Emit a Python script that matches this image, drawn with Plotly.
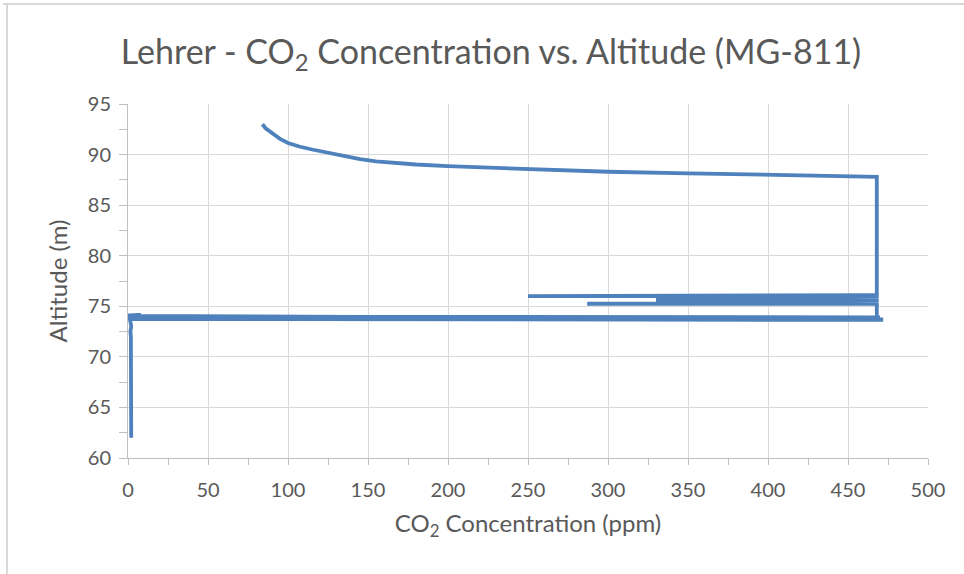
import plotly.graph_objects as go

# Path of the MG-811 readings (CO2 ppm, altitude m), in recorded order
ground_co2 = [2, 2, 2, 2.2, 2, 2, 1.8, 2, 2, 2.2, 2, 1.8, 1.5, 2, 1.5, 1, 0.5]
ground_alt = [62.0, 62.5, 63.5, 64.5, 65.5, 66.5, 67.5, 68.5, 69.5, 70.5, 71.5, 72.0, 72.5, 73.0, 73.5, 73.8, 74.1]

band_co2 = [8, 0.5, 472, 1, 470, 0.5, 472, 1, 470, 468]
band_alt = [74.15, 74.05, 73.7, 73.8, 73.9, 74.0, 73.65, 73.75, 73.85, 73.8]

loop_co2 = [468, 468, 250, 468, 468, 287, 468, 468, 330, 468, 468, 330, 468]
loop_alt = [74.2, 76.0, 76.0, 76.1, 75.25, 75.25, 75.3, 75.45, 75.45, 75.6, 75.8, 75.8, 75.95]

climb_co2 = [468, 468, 440, 400, 350, 300, 250, 225, 200, 180, 165, 155, 145, 135, 125, 115, 107, 100, 95, 90, 86, 84]
climb_alt = [76.0, 87.8, 87.9, 88.0, 88.15, 88.3, 88.55, 88.68, 88.85, 89.02, 89.18, 89.33, 89.55, 89.85, 90.2, 90.5, 90.8, 91.15, 91.55, 92.1, 92.6, 93.0]

co2 = ground_co2 + band_co2 + loop_co2 + climb_co2
alt = ground_alt + band_alt + loop_alt + climb_alt

x_ticks = [0, 50, 100, 150, 200, 250, 300, 350, 400, 450, 500]
y_ticks = [60, 65, 70, 75, 80, 85, 90, 95]

FONT = "Lato"
GREY = "#595959"
LINE = "#4F81BD"

fig = go.Figure()
fig.add_trace(go.Scatter(
    x=co2, y=alt, mode="lines",
    line=dict(color=LINE, width=3.8, shape="linear"),
    showlegend=False, hoverinfo="skip",
))

L, R, T, B = 128, 36, 104, 116
W, H = 964, 574
pw, ph = W - L - R, H - T - B

def px_x(p):
    return (p - L) / pw

def px_y(p):
    return (H - B - p) / ph

fig.update_layout(
    width=W, height=H,
    margin=dict(l=L, r=R, t=T, b=B),
    paper_bgcolor="white", plot_bgcolor="white",
    font=dict(family=FONT, color=GREY, size=16),
    title=dict(
        text="Lehrer - CO<sub>2</sub> Concentration vs. Altitude (MG-811)",
        x=491 / W, xref="container", xanchor="center",
        y=1 - 52 / H, yref="container", yanchor="middle",
        font=dict(family=FONT, size=34, color=GREY),
    ),
    xaxis=dict(
        range=[0, 500], tickvals=x_ticks, ticktext=[str(v) for v in x_ticks],
        showgrid=True, gridcolor="#D9D9D9", gridwidth=1,
        showline=True, linecolor="#BFBFBF", linewidth=1,
        ticks="outside", ticklen=6, tickcolor="#BFBFBF",
        minor=dict(dtick=25, ticks="outside", ticklen=6, tickcolor="#BFBFBF", showgrid=False),
        zeroline=False, ticklabelstandoff=8,
        tickfont=dict(family=FONT, size=20, color=GREY),
        title=dict(text="CO<sub>2</sub> Concentration (ppm)", standoff=15,
                   font=dict(family=FONT, size=24, color=GREY)),
    ),
    yaxis=dict(
        range=[60, 95], tickvals=y_ticks, ticktext=[str(v) for v in y_ticks],
        showgrid=True, gridcolor="#D9D9D9", gridwidth=1,
        showline=True, linecolor="#BFBFBF", linewidth=1,
        ticks="outside", ticklen=8, tickcolor="#BFBFBF",
        minor=dict(dtick=2.5, ticks="outside", ticklen=8, tickcolor="#BFBFBF", showgrid=False),
        zeroline=False, ticklabelstandoff=4,
        tickfont=dict(family=FONT, size=20, color=GREY),
        title=dict(text="Altitude (m)", standoff=13,
                   font=dict(family=FONT, size=24, color=GREY)),
    ),
    shapes=[
        dict(type="line", xref="paper", yref="paper",
             x0=px_x(3), x1=px_x(964), y0=px_y(4), y1=px_y(4),
             line=dict(color="#D9D9D9", width=2)),
        dict(type="line", xref="paper", yref="paper",
             x0=px_x(7), x1=px_x(7), y0=px_y(3), y1=px_y(574),
             line=dict(color="#D9D9D9", width=2)),
    ],
)

fig.write_html("out.html")
